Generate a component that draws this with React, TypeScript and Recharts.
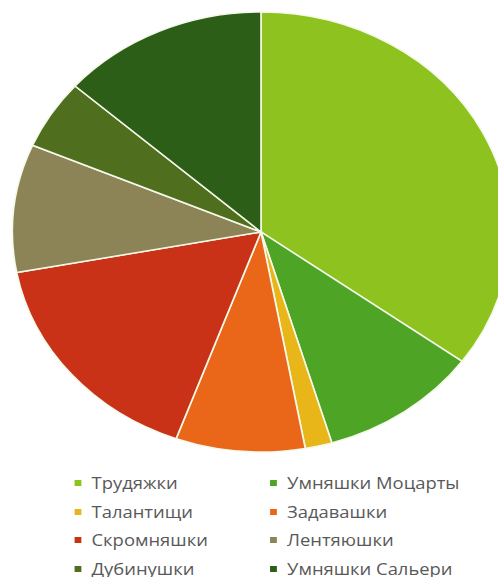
import React from 'react';
import { PieChart, Pie, Cell, Legend } from 'recharts';

const categories = [
  'Трудяжки',
  'Умняшки Моцарты',
  'Талантищи',
  'Задавашки',
  'Скромняшки',
  'Лентяюшки',
  'Дубинушки',
  'Умняшки Сальери',
];
const values = [35, 10.4, 1.75, 8.4, 16.5, 9.4, 5.1, 13.45];
const colors = ['#8dc21f', '#4ea424', '#e9b61a', '#ea6619', '#c93216', '#8c8456', '#4f6e1e', '#2d5e17'];

const data = categories.map((name, i) => ({ name, value: values[i] }));

const renderLegend = (props: any) => {
  const payload = [...(props.payload || [])].sort(
    (a: any, b: any) => categories.indexOf(a.value) - categories.indexOf(b.value)
  );
  return (
    <div style={{ display: 'grid', gridTemplateColumns: '173px 200px', rowGap: 0, paddingLeft: 66 }}>
      {payload.map((entry: any, i: number) => (
        <div key={i} style={{ display: 'flex', alignItems: 'center', height: 28.5 }}>
          <span style={{ display: 'inline-block', flexShrink: 0, width: 6, height: 6, background: entry.color, marginRight: 9 }} />
          <span style={{ color: '#595959', fontSize: 16.3, fontFamily: 'Open Sans, sans-serif', whiteSpace: 'nowrap' }}>{entry.value}</span>
        </div>
      ))}
    </div>
  );
};

export default function App() {
  return (
    <div style={{ position: 'absolute', left: 0, top: 0, width: 498, height: 577, overflow: 'hidden', background: '#fff' }}>
      <div style={{ transform: 'scaleX(1.13)', transformOrigin: '0 0', width: 441, height: 577 }}>
        <PieChart width={441} height={577} margin={{ top: 0, right: 0, bottom: 0, left: 0 }}>
          <Pie
            data={data}
            dataKey="value"
            nameKey="name"
            cx={231}
            cy={232}
            outerRadius={220}
            startAngle={90}
            endAngle={-270}
            stroke="#f4f9ea"
            strokeWidth={1.5}
            isAnimationActive={false}
            label={false}
            labelLine={false}
          >
            {data.map((d, i) => (
              <Cell key={d.name} fill={colors[i]} />
            ))}
          </Pie>
          <Legend
            content={renderLegend}
            wrapperStyle={{ position: 'absolute', top: 469, left: 0, width: 441 }}
          />
        </PieChart>
      </div>
    </div>
  );
}
